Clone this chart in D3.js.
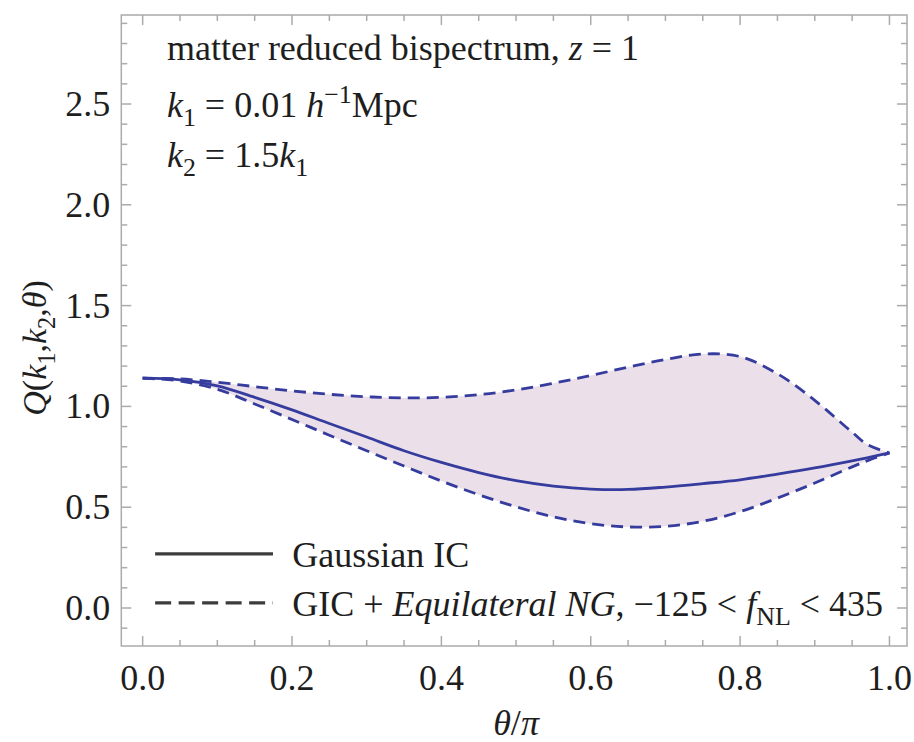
<!DOCTYPE html>
<html>
<head>
<meta charset="utf-8">
<script src="https://cdn.jsdelivr.net/npm/d3@7"></script>
<style>
  body { margin: 0; background: #fff; }
  text { font-family: "Liberation Serif", "DejaVu Serif", serif; fill: #1e1e1e; }
</style>
</head>
<body>
<svg id="chart" width="914" height="742"></svg>
<script>
// Reduced matter bispectrum Q(k1,k2,theta) at z = 1, k1 = 0.01 h/Mpc, k2 = 1.5 k1
const theta    = [0.00, 0.05, 0.10, 0.15, 0.20, 0.25, 0.30, 0.35, 0.40, 0.45, 0.50,
                  0.55, 0.60, 0.65, 0.70, 0.75, 0.80, 0.85, 0.90, 0.95, 0.97, 1.00];
const gaussian = [1.140, 1.132, 1.102, 1.045, 0.983, 0.915, 0.848, 0.780, 0.722, 0.672, 0.632,
                  0.605, 0.590, 0.588, 0.600, 0.617, 0.636, 0.664, 0.695, 0.730, 0.745, 0.769];
const upperNG  = [1.140, 1.136, 1.120, 1.098, 1.077, 1.060, 1.048, 1.042, 1.045, 1.058, 1.082,
                  1.115, 1.153, 1.195, 1.233, 1.260, 1.247, 1.162, 1.030, 0.872, 0.812, 0.769];
const lowerNG  = [1.140, 1.126, 1.085, 1.012, 0.935, 0.857, 0.780, 0.704, 0.630, 0.562, 0.502,
                  0.452, 0.418, 0.402, 0.405, 0.430, 0.478, 0.545, 0.620, 0.700, 0.730, 0.769];

const xMajor = [0, 0.2, 0.4, 0.6, 0.8, 1.0];
const yMajor = [0, 0.5, 1.0, 1.5, 2.0, 2.5];
const xDomain = [-0.0286, 1.0235];
const yDomain = [-0.1885, 2.9415];

const svg = d3.select("#chart");
const x = d3.scaleLinear().domain(xDomain).range([121.3, 907]);
const y = d3.scaleLinear().domain(yDomain).range([646, 15]);

const curveColor = "#363c9e";
const frameColor = "#ababab";
const FS = 36;

// shaded band spanning the non-Gaussian range
const band = theta.map((t, i) => ({ t, lo: lowerNG[i], hi: upperNG[i] }));
svg.append("path")
  .datum(band)
  .attr("fill", "#ebe0ea")
  .attr("d", d3.area().x(d => x(d.t)).y0(d => y(d.lo)).y1(d => y(d.hi)).curve(d3.curveCatmullRom.alpha(0.5)));

const line = d3.line().x(d => x(d[0])).y(d => y(d[1])).curve(d3.curveCatmullRom.alpha(0.5));
const series = [
  { v: upperNG, dash: "12,7" },
  { v: lowerNG, dash: "12,7" },
  { v: gaussian, dash: null }
];
series.forEach(s => {
  svg.append("path")
    .datum(theta.map((t, i) => [t, s.v[i]]))
    .attr("fill", "none")
    .attr("stroke", curveColor)
    .attr("stroke-width", 2.8)
    .attr("stroke-dasharray", s.dash)
    .attr("d", line);
});

// frame
svg.append("rect")
  .attr("x", x(xDomain[0])).attr("y", y(yDomain[1]))
  .attr("width", x(xDomain[1]) - x(xDomain[0]))
  .attr("height", y(yDomain[0]) - y(yDomain[1]))
  .attr("fill", "none").attr("stroke", frameColor).attr("stroke-width", 1.5);

// ticks on all four sides, pointing inward
const xMinor = d3.range(0, 21).map(i => i * 0.05).filter(v => !xMajor.some(m => Math.abs(m - v) < 1e-9));
const yMinor = d3.range(-1, 30).map(i => i * 0.1).filter(v => !yMajor.some(m => Math.abs(m - v) < 1e-9));
const ticks = svg.append("g").attr("stroke", frameColor).attr("stroke-width", 1.5);
function xTick(v, len) {
  ticks.append("line").attr("x1", x(v)).attr("x2", x(v)).attr("y1", y(yDomain[0])).attr("y2", y(yDomain[0]) - len);
  ticks.append("line").attr("x1", x(v)).attr("x2", x(v)).attr("y1", y(yDomain[1])).attr("y2", y(yDomain[1]) + len);
}
function yTick(v, len) {
  ticks.append("line").attr("y1", y(v)).attr("y2", y(v)).attr("x1", x(xDomain[0])).attr("x2", x(xDomain[0]) + len);
  ticks.append("line").attr("y1", y(v)).attr("y2", y(v)).attr("x1", x(xDomain[1])).attr("x2", x(xDomain[1]) - len);
}
xMajor.forEach(v => xTick(v, 10));
xMinor.forEach(v => xTick(v, 6));
yMajor.forEach(v => yTick(v, 10));
yMinor.forEach(v => yTick(v, 6));

// tick labels
svg.append("g").selectAll("text").data(xMajor).join("text")
  .attr("x", d => x(d)).attr("y", y(yDomain[0]) + 44)
  .attr("text-anchor", "middle").attr("font-size", FS)
  .text(d => d.toFixed(1));
svg.append("g").selectAll("text").data(yMajor).join("text")
  .attr("x", x(xDomain[0]) - 11).attr("y", d => y(d) + 12)
  .attr("text-anchor", "end").attr("font-size", FS)
  .text(d => d.toFixed(1));

// rich text helper: parts = [text, style] where style: i italic, b sub, p sup
function rich(g, parts, size) {
  const t = g.append("text").attr("font-size", size);
  let shift = 0;
  parts.forEach(([s, st]) => {
    st = st || "";
    let target = 0, fsz = size;
    if (st.includes("b")) { target = size * 0.25; fsz = size * 0.72; }
    if (st.includes("p")) { target = -size * 0.38; fsz = size * 0.72; }
    const sp = t.append("tspan").text(s).attr("font-size", fsz).attr("dy", target - shift);
    if (st.includes("i")) sp.attr("font-style", "italic");
    shift = target;
  });
  return t;
}

// annotation block
const ann = svg.append("g").attr("transform", `translate(${x(0.0325)},0)`);
rich(ann, [["matter reduced bispectrum, "], ["z", "i"], [" = 1"]], FS).attr("y", y(2.718));
rich(ann, [["k", "i"], ["1", "b"], [" = 0.01 "], ["h", "i"], ["\u22121", "p"], ["Mpc"]], FS).attr("y", y(2.435));
rich(ann, [["k", "i"], ["2", "b"], [" = 1.5"], ["k", "i"], ["1", "b"]], FS).attr("y", y(2.187));

// axis titles
rich(svg.append("g").attr("transform", `translate(${x(0.5)},${y(yDomain[0]) + 89})`),
  [["\u03b8", "i"], ["/"], ["\u03c0", "i"]], FS).attr("text-anchor", "middle");
rich(svg.append("g").attr("transform", `translate(46,${y(1.29)}) rotate(-90)`),
  [["Q", "i"], ["("], ["k", "i"], ["1", "b"], [","], ["k", "i"], ["2", "b"], [","], ["\u03b8", "i"], [")"]], 34)
  .attr("text-anchor", "middle");

// legend
const legend = [
  { label: [["Gaussian IC"]], dash: null, v: 0.268 },
  { label: [["GIC + "], ["Equilateral NG", "i"], [", \u2212125 < "], ["f", "i"], ["NL", "b"], [" < 435"]], dash: "16,7.5", v: 0.025 }
];
legend.forEach(l => {
  svg.append("line")
    .attr("x1", x(0.0167)).attr("x2", x(0.1745))
    .attr("y1", y(l.v)).attr("y2", y(l.v))
    .attr("stroke", "#3c3c3c").attr("stroke-width", 3.2)
    .attr("stroke-dasharray", l.dash);
  rich(svg.append("g").attr("transform", `translate(${x(0.2003)},${y(l.v) + 13})`), l.label, FS);
});
</script>
</body>
</html>
